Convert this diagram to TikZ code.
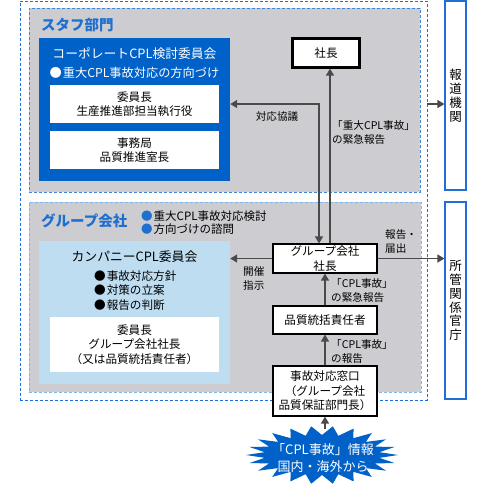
\documentclass[tikz,border=0pt]{standalone}
\usepackage{fontspec}
\setmainfont{Noto Sans CJK JP}
\usetikzlibrary{arrows.meta,calc}
\definecolor{boxgray}{HTML}{CDCDD1}
\definecolor{corpblue}{HTML}{0061C8}
\definecolor{lightblue}{HTML}{BEDDF1}
\definecolor{dashblue}{HTML}{1E6FD9}
\definecolor{staffdash}{HTML}{3F86D9}
\definecolor{lightdash}{HTML}{7DB8E8}
\definecolor{linegray}{HTML}{4A4A4A}
\definecolor{titleblue}{HTML}{1F6FCF}
\tikzset{
  txt/.style={inner sep=0pt, align=center, font=\fontsize{11.6}{14.5}\selectfont},
  ttl/.style={inner sep=0pt, align=center, font=\fontsize{12.8}{15}\selectfont},
  lbl/.style={inner sep=0pt, align=left, font=\fontsize{10.6}{14}\selectfont},
  frame/.style={draw, dash pattern=on 3pt off 2pt, line width=0.9pt, fill=boxgray, inner sep=0pt},
  wbox/.style={txt, fill=white, draw=black, line width=1.1pt},
  plainbox/.style={txt, fill=white},
  vbox/.style={inner sep=0pt, align=center, draw=dashblue, line width=1.1pt, fill=white},
  arr/.style={draw=linegray, line width=1.3pt, -{Triangle[length=7pt,width=8pt]}},
  dblarr/.style={draw=linegray, line width=1.3pt, {Triangle[length=7pt,width=8pt]}-{Triangle[length=7pt,width=8pt]}},
}
\begin{document}
\begin{tikzpicture}[x=1pt,y=-1pt]
\useasboundingbox (0,0) rectangle (487,483);
% outer dashed frame
\node[draw=dashblue, dash pattern=on 3pt off 2pt, line width=1pt, minimum width=407pt, minimum height=399pt, inner sep=0pt] (outer) at (223.5,200.5) {};
% staff area
\node[frame, draw=staffdash, minimum width=391pt, minimum height=184pt] (staff) at (224.5,100) {};
\node[inner sep=0pt, anchor=west, text=titleblue, font=\fontsize{14.5}{16}\selectfont\bfseries] (stafflbl) at (41,25) {スタフ部門};
% group area
\node[frame, draw=lightdash, minimum width=392pt, minimum height=190pt] (group) at (225,297) {};
\node[inner sep=0pt, anchor=west, text=titleblue, font=\fontsize{14.5}{16}\selectfont\bfseries] (grouplbl) at (41,221) {グループ会社};
\node[lbl, anchor=west, font=\fontsize{11.5}{13}\selectfont] (groupbul) at (141,223) {{\color{titleblue}●}\hspace{1pt}重大CPL事故対応検討\\{\color{titleblue}●}\hspace{1pt}方向づけの諮問};
% corporate committee
\node[fill=corpblue, minimum width=191pt, minimum height=143pt, inner sep=0pt] (corp) at (134.5,109.5) {};
\node[ttl, text=white] (corptitle) at (134.5,54) {コーポレートCPL検討委員会};
\node[txt, text=white, font=\fontsize{12.2}{14}\selectfont] (corpbul) at (134.5,72.5) {●\hspace{1pt}重大CPL事故対応の方向づけ};
\node[plainbox, minimum width=169pt, minimum height=38pt] (chair1) at (134.5,104) {委員長\\生産推進部担当執行役};
\node[plainbox, minimum width=169pt, minimum height=38pt] (office) at (134.5,150) {事務局\\品質推進室長};
% president
\node[wbox, line width=2.2pt, minimum width=67pt, minimum height=29pt] (shacho) at (326,53) {社長};
% company committee
\node[fill=lightblue, minimum width=191pt, minimum height=143pt, inner sep=0pt] (company) at (134.5,312.5) {};
\node[ttl] (comptitle) at (134.5,257) {カンパニーCPL委員会};
\node[txt, align=left, anchor=west] (compbul) at (94,290.5) {●\hspace{1pt}事故対応方針\\●\hspace{1pt}対策の立案\\●\hspace{1pt}報告の判断};
\node[plainbox, minimum width=169pt, minimum height=55pt] (chair2) at (134.5,344.5) {委員長\\グループ会社社長\\（又は品質統括責任者）};
% group company chain
\node[wbox, minimum width=104pt, minimum height=29pt] (pres) at (325,258.5) {グループ会社\\社長};
\node[wbox, minimum width=104pt, minimum height=28pt] (qual) at (325,320) {品質統括責任者};
\node[wbox, minimum width=104pt, minimum height=50pt] (mado) at (325,391) {事故対応窓口\\（グループ会社\\品質保証部門長）};
% outside bodies
\node[vbox, minimum width=21pt, minimum height=189pt, font=\fontsize{12.5}{14}\selectfont] (hodo) at (455.5,95.5) {報\\道\\機\\関};
\node[vbox, minimum width=21pt, minimum height=197pt, font=\fontsize{12.5}{13.7}\selectfont] (kancho) at (455.5,300.5) {所\\管\\関\\係\\官\\庁};
% burst
\fill[corpblue] plot[samples at={0,...,43}, variable=\t] ({322+(67+9*cos(\t*180))*cos(\t*360/44)}, {455+(24.5+4.5*cos(\t*180))*sin(\t*360/44)}) -- cycle;
\node[inner sep=0pt, align=center, text=white, font=\fontsize{13}{17}\selectfont, minimum height=58pt] (burst) at (323,458) {「CPL事故」情報\\国内・海外から};
% connectors
\coordinate (k1) at (319,104);
\draw[dblarr] (corp.east |- k1) -- (k1) -- (k1 |- pres.north);
\coordinate (k2) at (330,0);
\draw[arr] (k2 |- pres.north) -- (k2 |- shacho.south);
\coordinate (k3) at (427,104);
\draw[arr] (k3) -- (k3 -| hodo.west);
\draw[arr] (pres.west) -- (pres.west -| company.east);
\draw[arr] (pres.east) -- (pres.east -| kancho.west);
\draw[arr] (qual.north) -- (pres.south);
\draw[arr] (mado.north) -- (qual.south);
\draw[arr] (burst.north -| mado.south) -- (mado.south);
% labels
\node[lbl] (l1) at (277,116) {対応協議};
\node[lbl, anchor=west] (l2) at (332,132) {「重大CPL事故」\\の緊急報告};
\node[lbl, anchor=west] (l3) at (385,241) {報告・\\届出};
\node[lbl, anchor=west] (l4) at (243,278) {開催\\指示};
\node[lbl, anchor=west] (l5) at (331,290.5) {「CPL事故」\\の緊急報告};
\node[lbl, anchor=west] (l6) at (331,351) {「CPL事故」\\の報告};
\end{tikzpicture}
\end{document}
